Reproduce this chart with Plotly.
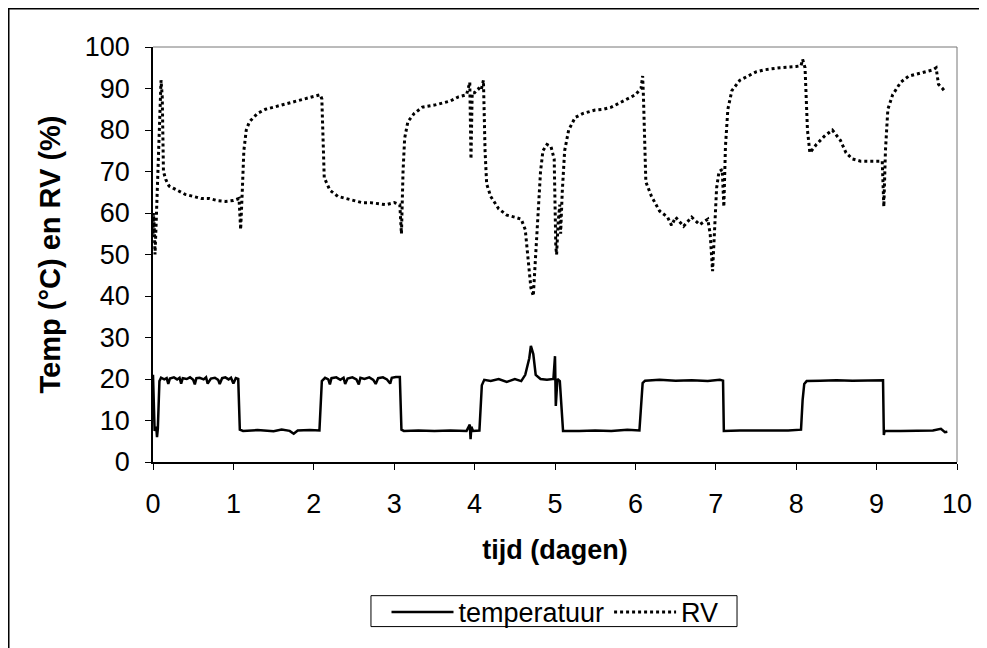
import plotly.graph_objects as go

# Temperature (°C) readings
temp_days = [0.00, 0.01, 0.02, 0.04, 0.05, 0.06, 0.08, 0.10, 0.14, 0.17, 0.19, 0.21, 0.26, 0.30, 0.33, 0.35,
             0.37, 0.42, 0.46, 0.50, 0.52, 0.54, 0.58, 0.63, 0.66, 0.68, 0.72, 0.77, 0.81, 0.83, 0.86, 0.90,
             0.94, 0.97, 1.00, 1.03, 1.06, 1.08, 1.12, 1.30, 1.50, 1.60, 1.70, 1.75, 1.80, 1.95, 2.07, 2.10,
             2.14, 2.18, 2.20, 2.22, 2.28, 2.33, 2.37, 2.39, 2.42, 2.48, 2.53, 2.56, 2.58, 2.63, 2.69, 2.74,
             2.77, 2.80, 2.86, 2.91, 2.95, 2.97, 3.02, 3.07, 3.09, 3.12, 3.30, 3.50, 3.70, 3.90, 3.94, 3.95,
             3.96, 3.98, 4.06, 4.09, 4.12, 4.20, 4.30, 4.40, 4.50, 4.58, 4.63, 4.68, 4.70, 4.73, 4.76, 4.82,
             4.90, 4.98, 5.00, 5.01, 5.03, 5.06, 5.10, 5.30, 5.50, 5.70, 5.90, 6.05, 6.09, 6.12, 6.30, 6.50,
             6.70, 6.90, 7.05, 7.09, 7.10, 7.30, 7.50, 7.70, 7.90, 8.06, 8.08, 8.10, 8.13, 8.30, 8.50, 8.70,
             8.90, 9.08, 9.09, 9.10, 9.30, 9.50, 9.70, 9.80, 9.85, 9.88]
temp_vals = [21.0, 9.0, 7.5, 8.5, 6.0, 8.0, 19.5, 20.3, 19.9, 20.2, 18.8, 20.1, 20.4, 19.9, 20.3, 18.9,
             20.2, 20.0, 20.4, 19.8, 18.7, 20.2, 20.3, 19.9, 20.4, 18.9, 20.1, 20.3, 19.8, 18.8, 20.2, 20.4,
             19.9, 20.3, 18.9, 20.2, 20.0, 7.8, 7.5, 7.7, 7.4, 7.8, 7.5, 6.8, 7.6, 7.7, 7.6, 19.5,
             20.3, 19.9, 18.7, 20.2, 20.4, 19.8, 20.3, 18.8, 20.1, 20.4, 19.9, 18.7, 20.3, 20.0, 20.4, 19.8,
             18.8, 20.2, 20.4, 19.9, 18.9, 20.3, 20.5, 20.5, 7.8, 7.5, 7.6, 7.5, 7.6, 7.5, 9.0, 5.5,
             8.5, 7.5, 7.6, 18.5, 19.8, 19.5, 20.0, 19.3, 20.0, 19.5, 21.0, 25.0, 28.0, 26.0, 21.0, 20.0,
             19.8, 20.0, 25.5, 13.5, 20.0, 19.5, 7.5, 7.5, 7.6, 7.5, 7.8, 7.6, 19.0, 19.6, 19.8, 19.6,
             19.7, 19.5, 19.8, 19.6, 7.5, 7.6, 7.6, 7.5, 7.6, 7.8, 15.0, 18.8, 19.5, 19.6, 19.7, 19.6,
             19.6, 19.7, 6.5, 7.5, 7.5, 7.6, 7.6, 8.0, 7.2, 7.3]

# Relative humidity RV (%) readings
rv_days = [0.00, 0.005, 0.015, 0.025, 0.04, 0.06, 0.08, 0.10, 0.115, 0.13, 0.16, 0.20, 0.25, 0.30, 0.40, 0.50,
           0.60, 0.70, 0.80, 0.90, 1.00, 1.07, 1.09, 1.11, 1.13, 1.16, 1.20, 1.30, 1.40, 1.50, 1.60, 1.70,
           1.80, 1.90, 2.00, 2.08, 2.10, 2.13, 2.20, 2.30, 2.40, 2.50, 2.60, 2.70, 2.80, 2.90, 3.00, 3.07,
           3.09, 3.11, 3.13, 3.17, 3.25, 3.35, 3.50, 3.60, 3.70, 3.80, 3.90, 3.94, 3.955, 3.97, 4.00, 4.05,
           4.08, 4.11, 4.13, 4.15, 4.20, 4.30, 4.40, 4.50, 4.58, 4.63, 4.67, 4.70, 4.73, 4.76, 4.79, 4.82,
           4.85, 4.90, 4.95, 4.99, 5.01, 5.02, 5.04, 5.06, 5.07, 5.09, 5.12, 5.17, 5.25, 5.35, 5.50, 5.60,
           5.70, 5.80, 5.90, 6.00, 6.07, 6.09, 6.10, 6.13, 6.20, 6.30, 6.40, 6.45, 6.50, 6.60, 6.70, 6.80,
           6.90, 6.93, 6.96, 6.99, 7.01, 7.04, 7.08, 7.10, 7.12, 7.15, 7.20, 7.30, 7.40, 7.50, 7.60, 7.80,
           8.00, 8.06, 8.08, 8.11, 8.14, 8.17, 8.25, 8.35, 8.45, 8.55, 8.62, 8.70, 8.80, 8.90, 9.00, 9.07,
           9.09, 9.11, 9.14, 9.20, 9.30, 9.40, 9.50, 9.60, 9.70, 9.74, 9.77, 9.82, 9.86]
rv_vals = [55.0, 60.0, 57.0, 50.0, 58.0, 70.0, 82.0, 92.0, 88.0, 70.0, 68.0, 66.5, 66.0, 65.5, 64.5, 64.0,
           63.5, 63.5, 63.0, 62.8, 63.0, 63.5, 56.0, 65.0, 75.0, 80.0, 82.0, 84.0, 85.0, 85.5, 86.0, 86.5,
           87.0, 87.5, 88.0, 88.5, 87.5, 68.5, 65.5, 64.0, 63.5, 63.0, 62.5, 62.5, 62.3, 62.0, 62.5, 62.0,
           55.0, 70.0, 78.0, 82.0, 84.0, 85.5, 86.0, 86.5, 87.0, 88.0, 88.5, 91.5, 73.0, 89.0, 89.0, 90.0,
           89.5, 92.0, 75.0, 67.0, 64.0, 61.0, 59.5, 59.0, 58.5, 56.0, 48.0, 42.0, 40.0, 50.0, 60.0, 70.0,
           75.0, 76.5, 76.0, 73.0, 52.0, 50.0, 58.0, 62.0, 55.0, 65.0, 75.0, 80.0, 83.0, 84.0, 84.8, 85.0,
           85.5, 86.5, 87.5, 88.5, 90.0, 93.0, 88.0, 67.5, 64.0, 60.5, 59.0, 57.0, 59.0, 56.8, 59.0, 57.2,
           58.5, 55.0, 46.0, 60.0, 66.0, 70.0, 70.5, 61.5, 76.0, 85.0, 89.5, 92.0, 93.0, 94.0, 94.5, 95.0,
           95.3, 95.5, 97.0, 95.0, 80.0, 74.5, 76.5, 78.5, 80.0, 77.5, 74.5, 73.0, 72.5, 72.5, 72.5, 72.5,
           61.5, 75.0, 85.0, 88.5, 91.5, 93.0, 93.5, 94.0, 94.5, 95.0, 91.0, 90.0, 89.0]

x_ticks = [0, 1, 2, 3, 4, 5, 6, 7, 8, 9, 10]
y_ticks = [0, 10, 20, 30, 40, 50, 60, 70, 80, 90, 100]

FONT = "Liberation Sans, Arial, sans-serif"

fig = go.Figure()
fig.add_trace(go.Scatter(x=temp_days, y=temp_vals, mode="lines", name="temperatuur",
                         line=dict(color="black", width=2.5)))
fig.add_trace(go.Scatter(x=rv_days, y=rv_vals, mode="lines", name="RV",
                         line=dict(color="black", width=3, dash="3px,3px")))

fig.update_layout(
    width=979, height=640,
    margin=dict(l=145, r=30, t=39, b=185),
    paper_bgcolor="white", plot_bgcolor="white",
    font=dict(family=FONT, size=27, color="black"),
    xaxis=dict(range=[0, 10], tickvals=x_ticks, ticks="outside", ticklen=6, tickcolor="black",
               showline=True, linecolor="black", linewidth=1.5, showgrid=False, zeroline=False,
               ticklabelstandoff=11, tickfont=dict(size=27),
               title=dict(text="<b>tijd (dagen)</b>", font=dict(size=27), standoff=22)),
    yaxis=dict(range=[0, 100], tickvals=y_ticks, ticks="outside", ticklen=6, tickcolor="black",
               showline=True, linecolor="black", linewidth=1.5, showgrid=False, zeroline=False,
               ticklabelstandoff=10, tickfont=dict(size=27),
               title=dict(text="<b>Temp (°C) en RV (%)</b>", font=dict(size=29), standoff=16)),
    legend=dict(orientation="h", x=0.5, xanchor="center", y=-0.359, yanchor="middle",
                borderwidth=0, bgcolor="rgba(0,0,0,0)", font=dict(size=27),
                itemwidth=62, traceorder="normal"),
    showlegend=True,
)

# plot frame (top and right edges, grey)
fig.add_shape(type="line", xref="paper", yref="paper", x0=0, x1=1, y0=1, y1=1,
              line=dict(color="#777777", width=1))
fig.add_shape(type="line", xref="paper", yref="paper", x0=1, x1=1, y0=0, y1=1,
              line=dict(color="#777777", width=1))
# legend box
fig.add_shape(type="rect", xref="paper", yref="paper", x0=0.2711, x1=0.7264, y0=-0.3966, y1=-0.3221,
              line=dict(color="black", width=1), fillcolor="rgba(0,0,0,0)")
# outer chart border
fig.add_shape(type="rect", xref="paper", yref="paper", x0=-0.1794, x1=1.06, y0=-0.47, y1=1.0919,
              line=dict(color="black", width=1.5), fillcolor="rgba(0,0,0,0)")

fig.write_html("out.html")
